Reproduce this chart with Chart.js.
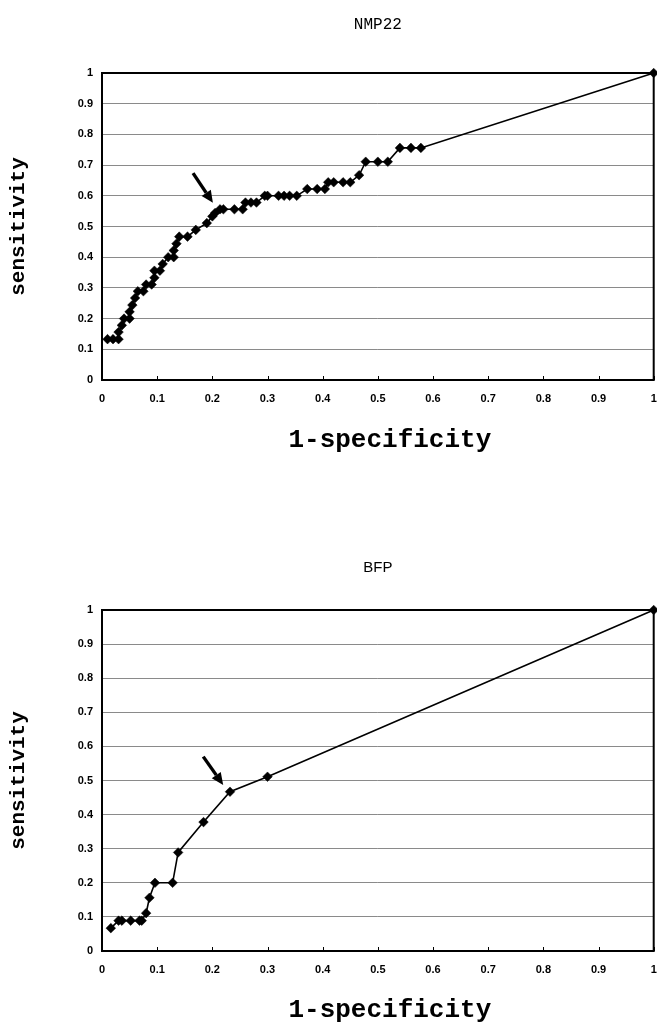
<!DOCTYPE html>
<html>
<head>
<meta charset="utf-8">
<script src="https://cdn.jsdelivr.net/npm/chart.js@4.4.1/dist/chart.umd.min.js"></script>
<style>
  html, body { margin: 0; padding: 0; background: #fff; }
  body { width: 657px; height: 1033px; position: relative; overflow: hidden; }
  canvas { position: absolute; left: 0; }
  #c1 { top: 0; }
  #c2 { top: 530px; }
</style>
</head>
<body>
<canvas id="c1" width="659" height="470"></canvas>
<canvas id="c2" width="659" height="503"></canvas>
<script>
// ---- Data ----
const TICK_LABELS = ['0', '0.1', '0.2', '0.3', '0.4', '0.5', '0.6', '0.7', '0.8', '0.9', '1'];

const NMP22_FPR = [0.01, 0.02, 0.03, 0.03, 0.036, 0.04, 0.05, 0.05, 0.055, 0.06, 0.065, 0.075, 0.08, 0.09,
  0.095, 0.095, 0.105, 0.11, 0.12, 0.13, 0.13, 0.135, 0.14, 0.155, 0.17, 0.19, 0.2, 0.205, 0.214, 0.22,
  0.24, 0.255, 0.26, 0.27, 0.28, 0.295, 0.3, 0.32, 0.33, 0.34, 0.353, 0.372, 0.39, 0.404, 0.41, 0.42,
  0.437, 0.45, 0.466, 0.478, 0.5, 0.518, 0.54, 0.56, 0.578, 1];
const NMP22_SENS = [0.133, 0.133, 0.133, 0.156, 0.178, 0.2, 0.2, 0.222, 0.244, 0.267, 0.289, 0.289, 0.311, 0.311,
  0.333, 0.356, 0.356, 0.378, 0.4, 0.4, 0.422, 0.444, 0.467, 0.467, 0.489, 0.511, 0.533, 0.544, 0.556, 0.556,
  0.556, 0.556, 0.578, 0.578, 0.578, 0.6, 0.6, 0.6, 0.6, 0.6, 0.6, 0.622, 0.622, 0.622, 0.644, 0.644,
  0.644, 0.644, 0.667, 0.711, 0.711, 0.711, 0.756, 0.756, 0.756, 1];

const BFP_FPR = [0.016, 0.03, 0.036, 0.052, 0.068, 0.072, 0.08, 0.086, 0.096, 0.128, 0.138, 0.184, 0.232, 0.3, 1];
const BFP_SENS = [0.067, 0.089, 0.089, 0.089, 0.089, 0.089, 0.111, 0.156, 0.2, 0.2, 0.289, 0.378, 0.467, 0.511, 1];

// arrow annotations in data units: [tailX, tailY, tipX, tipY]
const NMP22_ARROW = [0.165, 0.674, 0.201, 0.577];
const BFP_ARROW = [0.1835, 0.570, 0.2197, 0.487];

const X_TITLE = '1-specificity';
const Y_TITLE = 'sensitivity';

function toPoints(xs, ys) { return xs.map((x, i) => ({ x: x, y: ys[i] })); }

function makeDecor(opts) {
  return {
    id: 'decor',
    beforeDatasetsDraw(chart) {
      const ctx = chart.ctx, a = chart.chartArea, xs = chart.scales.x;
      ctx.save();
      ctx.strokeStyle = '#000';
      ctx.lineWidth = 1;
      xs.ticks.forEach(t => {
        const px = Math.round(xs.getPixelForValue(t.value)) + 0.5;
        ctx.beginPath();
        ctx.moveTo(px, a.bottom);
        ctx.lineTo(px, a.bottom - 4);
        ctx.stroke();
      });
      ctx.lineWidth = 2;
      ctx.strokeStyle = '#000';
      ctx.strokeRect(a.left, a.top, a.right - a.left, a.bottom - a.top);
      ctx.restore();
    },
    afterDatasetsDraw(chart) {
      const ctx = chart.ctx, a = chart.chartArea, xs = chart.scales.x, ys = chart.scales.y;
      ctx.save();
      const ar = opts.arrow;
      const x1 = xs.getPixelForValue(ar[0]), y1 = ys.getPixelForValue(ar[1]);
      const x2 = xs.getPixelForValue(ar[2]), y2 = ys.getPixelForValue(ar[3]);
      const ang = Math.atan2(y2 - y1, x2 - x1);
      const hl = 12, hw = 5.5;
      const bx = x2 - hl * Math.cos(ang), by = y2 - hl * Math.sin(ang);
      ctx.strokeStyle = '#000';
      ctx.fillStyle = '#000';
      ctx.lineWidth = 3.4;
      ctx.beginPath();
      ctx.moveTo(x1, y1);
      ctx.lineTo(bx, by);
      ctx.stroke();
      ctx.beginPath();
      ctx.moveTo(x2, y2);
      ctx.lineTo(bx + hw * Math.sin(ang), by - hw * Math.cos(ang));
      ctx.lineTo(bx - hw * Math.sin(ang), by + hw * Math.cos(ang));
      ctx.closePath();
      ctx.fill();
      ctx.fillStyle = '#000';
      ctx.textAlign = 'center';
      ctx.textBaseline = 'middle';
      ctx.font = opts.titleFont;
      ctx.fillText(opts.title, (a.left + a.right) / 2, a.top - opts.titleGap);
      ctx.font = 'bold 26px "Liberation Mono", "DejaVu Sans Mono", monospace';
      ctx.fillText(X_TITLE, (a.left + a.right) / 2 + 12, a.bottom + opts.xTitleGap);
      ctx.save();
      ctx.translate(19, (a.top + a.bottom) / 2);
      ctx.rotate(-Math.PI / 2);
      ctx.font = 'bold 21px "Liberation Mono", "DejaVu Sans Mono", monospace';
      ctx.fillText(Y_TITLE, 0, 0);
      ctx.restore();
      ctx.restore();
    }
  };
}

function makeChart(id, xs, ys, opts) {
  const canvas = document.getElementById(id);
  const H = canvas.height;
  return new Chart(canvas, {
    type: 'scatter',
    data: {
      datasets: [{
        data: toPoints(xs, ys),
        showLine: true,
        borderColor: '#000',
        borderWidth: 1.6,
        backgroundColor: '#000',
        pointStyle: 'rectRot',
        pointRadius: 4.8,
        pointBorderWidth: 0.5,
        pointBorderColor: '#000',
        pointBackgroundColor: '#000',
        tension: 0,
        clip: false
      }]
    },
    options: {
      responsive: false,
      animation: false,
      devicePixelRatio: 1,
      layout: { padding: { top: opts.top, right: 1, left: 0, bottom: 0 } },
      plugins: { legend: { display: false }, tooltip: { enabled: false }, title: { display: false } },
      scales: {
        x: {
          type: 'linear', min: 0, max: 1,
          ticks: {
            stepSize: 0.1, color: '#000', padding: 12, maxRotation: 0,
            font: { family: '"Liberation Sans", Arial, sans-serif', size: 11, weight: 'bold' },
            callback: (v) => TICK_LABELS[Math.round(v * 10)]
          },
          grid: { display: false, drawTicks: false },
          border: { display: false },
          afterFit: (s) => { s.height = H - opts.bottom; s.paddingRight = 0; s.paddingLeft = 0; }
        },
        y: {
          type: 'linear', min: 0, max: 1,
          ticks: {
            stepSize: 0.1, color: '#000', padding: 9,
            font: { family: '"Liberation Sans", Arial, sans-serif', size: 11, weight: 'bold' },
            callback: (v) => TICK_LABELS[Math.round(v * 10)]
          },
          grid: { color: '#8a8a8a', lineWidth: 1, drawTicks: false },
          border: { display: false },
          afterFit: (s) => { s.width = 102; s.paddingTop = 0; s.paddingBottom = 0; }
        }
      }
    },
    plugins: [makeDecor(opts)]
  });
}

makeChart('c1', NMP22_FPR, NMP22_SENS, {
  top: 73, bottom: 380, title: 'NMP22', titleGap: 48, xTitleGap: 60,
  titleFont: '16px "Liberation Mono", "DejaVu Sans Mono", monospace',
  arrow: NMP22_ARROW
});
makeChart('c2', BFP_FPR, BFP_SENS, {
  top: 80, bottom: 421, title: 'BFP', titleGap: 42, xTitleGap: 59,
  titleFont: '15px "Liberation Sans", Arial, sans-serif',
  arrow: BFP_ARROW
});
</script>
</body>
</html>
